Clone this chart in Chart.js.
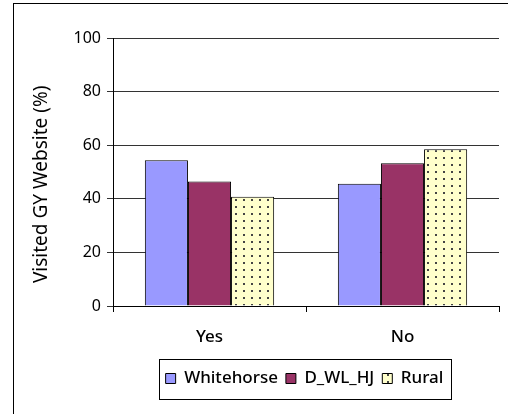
<!DOCTYPE html>
<html>
<head>
<meta charset="utf-8">
<script src="https://cdn.jsdelivr.net/npm/chart.js@4"></script>
<style>
  html, body { margin: 0; padding: 0; background: #fff; overflow: hidden; width: 508px; height: 414px; }
  #frame { position: absolute; left: 13px; top: 3px; width: 600px; height: 500px; border-left: 1px solid #000; border-top: 1px solid #000; }
  #chart { position: absolute; left: 0; top: 0; }
</style>
</head>
<body>
<div id="frame"></div>
<canvas id="chart" width="508" height="414"></canvas>
<script>
const categories = ['Yes', 'No'];
const whitehorse = [54.4, 45.6];
const dwlhj = [46.5, 53.3];
const rural = [40.8, 58.5];
const yTicks = [0, 20, 40, 60, 80, 100];

// dotted fill for the Rural bars
function dotPattern() {
    const c = document.createElement('canvas');
    c.width = 8;
    c.height = 7;
    const g = c.getContext('2d');
    g.fillStyle = '#FFFFCC';
    g.fillRect(0, 0, 8, 7);
    g.fillStyle = '#444';
    g.fillRect(3, 3, 2, 2);
    return g.createPattern(c, 'repeat');
}

const FONT = 'Noto Sans';
const LEGEND_CENTER = 304; // legend sits right of the canvas centre in the original

// moves the legend sideways and draws the box around it
const legendBox = {
    id: 'legendBox',
    afterUpdate(chart) {
        const lg = chart.legend;
        if (!lg || !lg.legendHitBoxes.length) return;
        let l = Infinity, r = -Infinity;
        lg.legendHitBoxes.forEach(h => { l = Math.min(l, h.left); r = Math.max(r, h.left + h.width); });
        const dx = Math.round(LEGEND_CENTER - (l + r) / 2);
        lg.left += dx;
        lg.right += dx;
        lg.legendHitBoxes.forEach(h => { h.left += dx; });
    },
    afterDraw(chart) {
        const lg = chart.legend;
        if (!lg || !lg.legendHitBoxes.length) return;
        let l = Infinity, r = -Infinity;
        lg.legendHitBoxes.forEach(h => { l = Math.min(l, h.left); r = Math.max(r, h.left + h.width); });
        const ctx = chart.ctx;
        ctx.save();
        ctx.strokeStyle = '#000';
        ctx.lineWidth = 1;
        const top = Math.round(lg.top) - 3;
        const bottom = Math.round(lg.top + lg.height) + 2;
        ctx.strokeRect(Math.round(l - 7) + 0.5, top + 0.5, Math.round(r - l + 14), bottom - top);
        ctx.restore();
    }
};

const ctx = document.getElementById('chart').getContext('2d');
new Chart(ctx, {
    type: 'bar',
    data: {
        labels: categories,
        datasets: [
            { label: 'Whitehorse', data: whitehorse, backgroundColor: '#9999FF', borderColor: '#000', borderWidth: 1 },
            { label: 'D_WL_HJ', data: dwlhj, backgroundColor: '#993366', borderColor: '#000', borderWidth: 1 },
            { label: 'Rural', data: rural, backgroundColor: dotPattern(), borderColor: '#000', borderWidth: 1 }
        ]
    },
    options: {
        responsive: false,
        animation: false,
        layout: { padding: { left: 26, right: 9, top: 38, bottom: 17 } },
        datasets: { bar: { categoryPercentage: 0.67, barPercentage: 1.0 } },
        scales: {
            x: {
                grid: { display: true, drawOnChartArea: false, drawTicks: true, tickLength: 6, color: '#000', offset: true },
                border: { display: true, color: '#000' },
                ticks: { color: '#000', padding: 15, font: { family: FONT, size: 17, weight: '500' } },
                afterFit(scale) { scale.height = 56; }
            },
            y: {
                min: 0,
                max: 100,
                afterBuildTicks(scale) { scale.ticks = yTicks.map(v => ({ value: v })); },
                grid: { color: '#333', tickLength: 6 },
                border: { display: true, color: '#000' },
                ticks: { color: '#000', padding: 6, font: { family: FONT, size: 16 } },
                title: {
                    display: true,
                    text: 'Visited GY Website (%)\u00A0\u00A0\u00A0\u00A0\u00A0',
                    color: '#000',
                    padding: { top: 4, bottom: 4 },
                    font: { family: FONT, size: 19 }
                },
                afterFit(scale) { scale.width = 87; }
            }
        },
        plugins: {
            legend: {
                position: 'bottom',
                labels: { boxWidth: 10, boxHeight: 10, padding: 8, color: '#000', font: { family: FONT, size: 17, weight: '500' } }
            },
            tooltip: { enabled: false }
        }
    },
    plugins: [legendBox]
});
</script>
</body>
</html>
